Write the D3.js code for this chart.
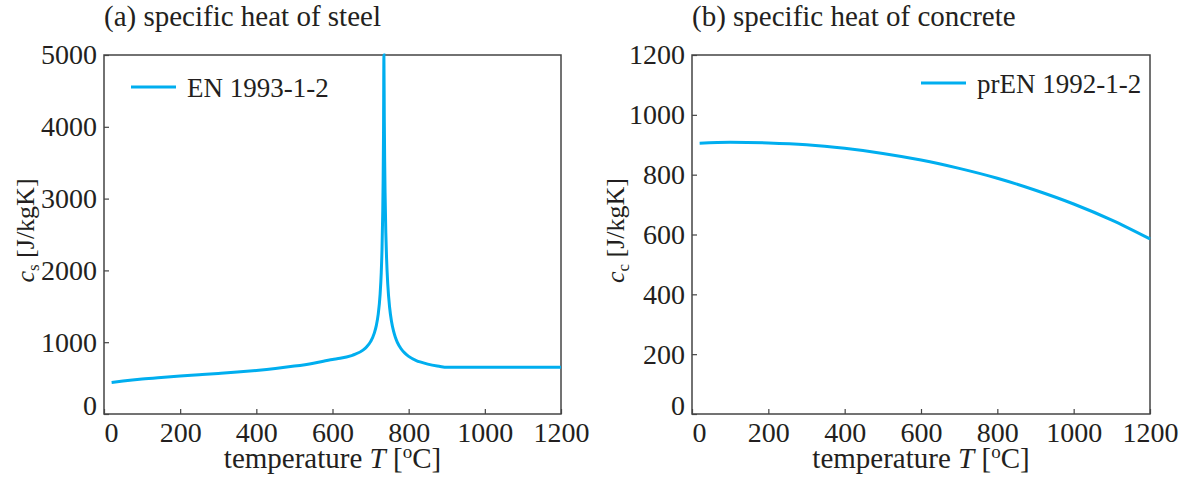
<!DOCTYPE html>
<html>
<head>
<meta charset="utf-8">
<script src="https://cdn.jsdelivr.net/npm/d3@7/dist/d3.min.js"></script>
<style>
  html, body { margin: 0; padding: 0; background: #fff; }
  svg { display: block; }
  text { font-family: "Liberation Serif", "Times New Roman", serif; fill: #231f20; }
</style>
</head>
<body>
<svg id="chart" width="1188" height="479"></svg>
<script>
// ---- data ----
const steelTemp = [20, 50, 100, 150, 200, 250, 300, 350, 400, 450, 500, 550, 600, 620, 650, 660, 680, 690, 700, 710, 715, 720, 725, 728, 730, 732, 733, 734, 735, 736, 737, 738, 740, 742, 745, 750, 755, 760, 765, 770, 780, 790, 800, 820, 830, 850, 875, 880, 900, 1200];
const steelHeat = [440, 460, 488, 510, 530, 547, 565, 584, 606, 633, 667, 708, 760, 776, 814, 833, 890, 937, 1008, 1130, 1231, 1388, 1666, 1966, 2291, 2833, 3266, 3917, 5000, 4109, 3515, 3091, 2525, 2165, 1818, 1483, 1288, 1160, 1069, 1002, 909, 847, 803, 745, 725, 695, 669, 665, 650, 650];

const concreteTemp = [20, 100, 200, 300, 400, 500, 600, 700, 800, 900, 1000, 1100, 1200];
const concreteHeat = [905, 908, 906, 900, 888, 871, 849, 821, 788, 748, 702, 648, 585];

const xTicks = [0, 200, 400, 600, 800, 1000, 1200];
const steelYTicks = [0, 1000, 2000, 3000, 4000, 5000];
const concreteYTicks = [0, 200, 400, 600, 800, 1000, 1200];

const panels = [
  { title: "(a) specific heat of steel", legend: "EN 1993-1-2", sub: "s",
    xs: steelTemp, ys: steelHeat, yMax: 5000, yTicks: steelYTicks,
    left: 104, right: 561, legendX: 131, legendY: 87, labelX: 34 },
  { title: "(b) specific heat of concrete", legend: "prEN 1992-1-2", sub: "c",
    xs: concreteTemp, ys: concreteHeat, yMax: 1200, yTicks: concreteYTicks,
    left: 692, right: 1150, legendX: 921, legendY: 83, labelX: 624 }
];

const plotTop = 55, plotBottom = 414;
const lineColor = "#00aeef";
const axisColor = "#444";
const svg = d3.select("#chart");

panels.forEach(p => {
  const x = d3.scaleLinear().domain([0, 1200]).range([p.left, p.right]);
  const y = d3.scaleLinear().domain([0, p.yMax]).range([plotBottom, plotTop]);
  const g = svg.append("g");

  // x axis
  const gx = g.append("g").attr("transform", `translate(0,${plotBottom})`)
    .call(d3.axisBottom(x).tickValues(xTicks).tickFormat(d3.format("d")).tickSize(-5).tickSizeOuter(0).tickPadding(8));
  gx.select(".domain").remove();
  gx.selectAll(".tick line").attr("stroke", axisColor).attr("stroke-width", 1.2);
  gx.selectAll(".tick text").attr("font-size", 28).attr("fill", "#231f20")
    .attr("font-family", "Liberation Serif")
    .attr("dx", d => d === 0 ? 7 : 0);

  // y axis
  const gy = g.append("g").attr("transform", `translate(${p.left},0)`)
    .call(d3.axisLeft(y).tickValues(p.yTicks).tickFormat(d3.format("d")).tickSize(-5).tickSizeOuter(0).tickPadding(7));
  gy.select(".domain").remove();
  gy.selectAll(".tick line").attr("stroke", axisColor).attr("stroke-width", 1.2);
  gy.selectAll(".tick text").attr("font-size", 28).attr("fill", "#231f20")
    .attr("font-family", "Liberation Serif")
    .attr("dy", d => d === 0 ? "0em" : "0.32em");

  // box
  g.append("rect").attr("x", p.left).attr("y", plotTop)
    .attr("width", p.right - p.left).attr("height", plotBottom - plotTop)
    .attr("fill", "none").attr("stroke", axisColor).attr("stroke-width", 1.5);

  // data line
  const line = d3.line().x((d, i) => x(p.xs[i])).y((d, i) => y(p.ys[i])).curve(d3.curveMonotoneX);
  g.append("path").datum(p.ys).attr("d", line)
    .attr("fill", "none").attr("stroke", lineColor).attr("stroke-width", 3);

  // legend
  g.append("line").attr("x1", p.legendX).attr("x2", p.legendX + 45)
    .attr("y1", p.legendY).attr("y2", p.legendY)
    .attr("stroke", lineColor).attr("stroke-width", 3);
  g.append("text").attr("x", p.legendX + 56).attr("y", p.legendY + 10)
    .attr("font-size", 27).text(p.legend);

  // title
  g.append("text").attr("x", p.left).attr("y", 26).attr("font-size", 29).text(p.title);

  // x label
  const xl = g.append("text").attr("x", (p.left + p.right) / 2).attr("y", 468)
    .attr("text-anchor", "middle").attr("font-size", 29);
  xl.append("tspan").text("temperature ");
  xl.append("tspan").attr("font-style", "italic").text("T");
  xl.append("tspan").text(" [");
  xl.append("tspan").attr("font-size", 19).attr("dy", -10).text("o");
  xl.append("tspan").attr("dy", 10).text("C]");

  // y label
  const yl = g.append("text")
    .attr("transform", `translate(${p.labelX},${(plotTop + plotBottom) / 2 - 4}) rotate(-90)`)
    .attr("text-anchor", "middle").attr("font-size", 26);
  yl.append("tspan").attr("font-style", "italic").text("c");
  yl.append("tspan").attr("font-size", 17).attr("dy", 5).text(p.sub);
  yl.append("tspan").attr("dy", -5).text(" [J/kgK]");
});
</script>
</body>
</html>
